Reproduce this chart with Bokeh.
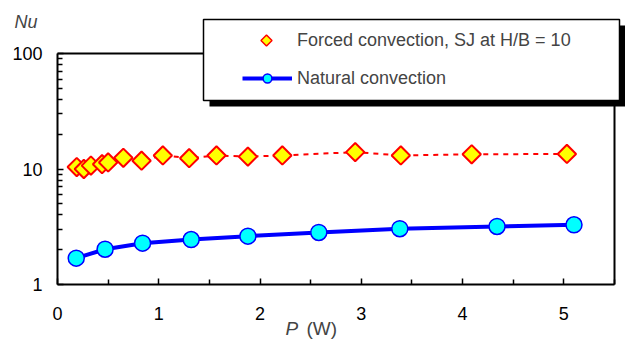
import math
from bokeh.plotting import figure
from bokeh.models import (Range1d, FixedTicker, Legend, LegendItem, Label, BoxAnnotation,
                          PolyAnnotation, LinearAxis, LogAxis)
from bokeh.embed import file_html
from bokeh.resources import INLINE

# ---- data ----
p_forced = [0.19, 0.26, 0.33, 0.44, 0.50, 0.65, 0.83, 1.04, 1.30, 1.57, 1.88, 2.22, 2.94, 3.39, 4.09, 5.03]
nu_forced = [10.4, 10.0, 10.7, 11.0, 11.4, 12.5, 11.8, 13.1, 12.4, 13.1, 12.8, 13.1, 14.0, 13.1, 13.4, 13.5]

p_natural = [0.185, 0.47, 0.84, 1.32, 1.88, 2.58, 3.38, 4.34, 5.10]
nu_natural = [1.69, 2.02, 2.28, 2.45, 2.62, 2.82, 3.04, 3.18, 3.29]

x_ticks = [0, 1, 2, 3, 4, 5]
x_minor = [0.5, 1.5, 2.5, 3.5, 4.5, 5.5]
y_ticks = [1, 10, 100]
y_minor = [2, 3, 4, 5, 6, 7, 8, 9, 20, 30, 40, 50, 60, 70, 80, 90]
x_lim = (0, 5.5)
y_lim = (1, 100)

label_forced = "Forced convection, SJ at H/B = 10"
label_natural = "Natural convection"

FONT = "Liberation Sans"
W, H = 625, 340
# pixel layout of the plotting box inside the canvas
BOX_L, BOX_R, BOX_T, BOX_B = 57, 614, 53, 284

# data ranges chosen so that the whole canvas is the frame and the box sits at BOX_*
px_per_x = (BOX_R - BOX_L) / (x_lim[1] - x_lim[0])
px_per_dec = (BOX_B - BOX_T) / (math.log10(y_lim[1]) - math.log10(y_lim[0]))
x_start = x_lim[0] - BOX_L / px_per_x
x_end = x_lim[0] + (W - BOX_L) / px_per_x
y_start = 10 ** (math.log10(y_lim[0]) - (H - BOX_B) / px_per_dec)
y_end = 10 ** (math.log10(y_lim[0]) + BOX_B / px_per_dec)

p = figure(width=W, height=H, x_range=Range1d(x_start, x_end), y_range=Range1d(y_start, y_end),
           y_axis_type="log", x_axis_location=None, y_axis_location=None,
           output_backend="svg", toolbar_location=None,
           min_border_left=0, min_border_right=0, min_border_top=0, min_border_bottom=0)
p.title.visible = False
p.xgrid.visible = False
p.ygrid.visible = False
p.outline_line_color = None
p.background_fill_color = "white"
p.border_fill_color = "white"


def style(ax):
    ax.axis_line_color = "black"
    ax.axis_line_width = 2
    ax.major_tick_in = 6
    ax.major_tick_out = 0
    ax.minor_tick_in = 5
    ax.minor_tick_out = 0
    ax.major_tick_line_color = "black"
    ax.minor_tick_line_color = "black"
    ax.major_tick_line_width = 1.5
    ax.minor_tick_line_width = 1.5
    ax.major_label_text_font = FONT
    ax.major_label_text_font_size = "18px"
    ax.major_label_text_color = "black"


xaxis = LinearAxis(fixed_location=y_lim[0], bounds=x_lim,
                   ticker=FixedTicker(ticks=x_ticks, minor_ticks=x_minor))
style(xaxis)
xaxis.major_label_standoff = 22
p.add_layout(xaxis, "below")

yaxis = LogAxis(fixed_location=x_lim[0], bounds=y_lim,
                ticker=FixedTicker(ticks=y_ticks, minor_ticks=y_minor))
style(yaxis)
yaxis.major_label_standoff = 15
yaxis.major_label_overrides = {1: "1", 10: "10", 100: "100"}
p.add_layout(yaxis, "left")

# frame lines on top and right
top_ax = LinearAxis(fixed_location=y_lim[1], bounds=x_lim, ticker=FixedTicker(ticks=[]))
right_ax = LogAxis(fixed_location=x_lim[1], bounds=y_lim, ticker=FixedTicker(ticks=[]))
for ax in (top_ax, right_ax):
    ax.axis_line_color = "black"
    ax.axis_line_width = 2
    ax.major_tick_line_color = None
    ax.minor_tick_line_color = None
    ax.major_label_text_color = None
p.add_layout(top_ax, "above")
p.add_layout(right_ax, "right")

# forced convection
line_f = p.line(p_forced, nu_forced, line_color="red", line_width=2, line_dash="5 5")
sc_f = p.scatter(p_forced, nu_forced, marker="square", angle=math.pi / 4, size=13,
                 fill_color="#FFFF00", line_color="#FF0000", line_width=2)

# natural convection
line_n = p.line(p_natural, nu_natural, line_color="#0000FF", line_width=4)
sc_n = p.scatter(p_natural, nu_natural, marker="circle", size=16,
                 fill_color="#00FFFF", line_color="#0000FF", line_width=1.5)

# transparent stand-in for the legend entry of the diamonds (sample drawn below)
blank = p.scatter([], [], marker="square", fill_alpha=0, line_alpha=0)

# legend box with shadow (screen units from canvas bottom-left)
def sbox(l, r, t, b, **kw):
    return BoxAnnotation(left=l, right=r, top=H - t, bottom=H - b,
                         left_units="screen", right_units="screen",
                         top_units="screen", bottom_units="screen", level="overlay", **kw)

p.add_layout(sbox(209, 625, 25, 106, fill_color="black", fill_alpha=1, line_color=None))
p.add_layout(sbox(203, 619, 19, 100, fill_color="white", fill_alpha=1,
                  line_color="black", line_width=1.5, line_alpha=1))

legend = Legend(items=[LegendItem(label=label_forced, renderers=[blank]),
                       LegendItem(label=label_natural, renderers=[line_n, sc_n])],
                location=(242, H - 89), padding=0, margin=0, spacing=16,
                glyph_width=50, glyph_height=22, label_height=22, label_standoff=5,
                label_text_font=FONT, label_text_font_size="18px",
                border_line_color=None, background_fill_alpha=0, level="overlay")
p.add_layout(legend, "center")

# diamond sample for the first legend entry
cx, cy, r = 266, 40, 5.5
p.add_layout(PolyAnnotation(xs=[cx, cx + r, cx, cx - r], ys=[H - cy + r, H - cy, H - cy - r, H - cy],
                            xs_units="screen", ys_units="screen",
                            fill_color="#FFFF00", fill_alpha=1, line_color="#FF0000",
                            line_width=1.5, line_alpha=1, level="overlay"))

# axis titles
def lab(x, y, text, style="normal", size="18px"):
    return Label(x=x, y=H - y, x_units="screen", y_units="screen", text=text,
                 text_font=FONT, text_font_size=size, text_font_style=style,
                 text_baseline="middle", text_align="left", level="overlay")

p.add_layout(lab(14, 21, "Nu", "italic"))
p.add_layout(lab(285, 328, "P", "italic", "19px"))
p.add_layout(lab(306, 328, "(W)", "normal", "19px"))

open("out.html", "w").write(file_html(p, INLINE))
